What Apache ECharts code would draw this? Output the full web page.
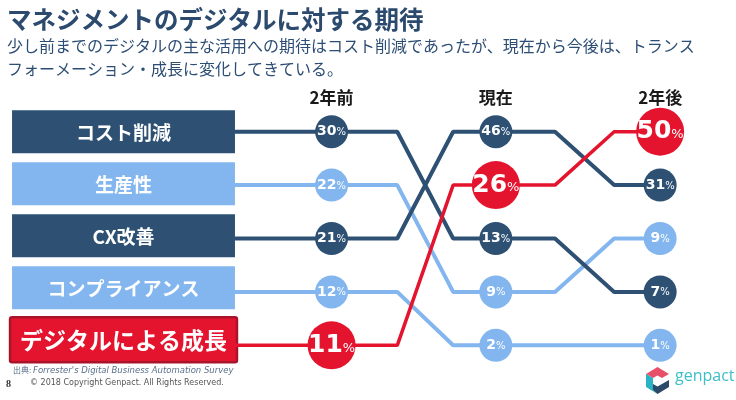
<!DOCTYPE html>
<html>
<head>
<meta charset="utf-8">
<script src="https://cdn.jsdelivr.net/npm/echarts@6/dist/echarts.min.js"></script>
<style>
  html, body { margin: 0; padding: 0; background: #fff; }
  #chart { width: 736px; height: 400px; }
</style>
</head>
<body>
<div id="chart"></div>
<script>
const categories = ['コスト削減', '生産性', 'CX改善', 'コンプライアンス', 'デジタルによる成長'];
const periods = ['2年前', '現在', '2年後'];
const before = [30, 22, 21, 12, 11];
const current = [13, 9, 46, 2, 26];
const after = [7, 9, 31, 1, 50];

const DARK = '#2d5073';
const LIGHT = '#83b6ef';
const RED = '#e5142e';
const catColor = [DARK, LIGHT, DARK, LIGHT, RED];
const bigIdx = 4;

// rank of each category within a period (0 = largest)
const rankOf = vals => vals.map(v => vals.filter(o => o > v).length);
const columns = [before, current, after];
const ranks = columns.map(rankOf);

const BAR_LEFT = -1.945, BAR_RIGHT = -0.588;
const T1 = [0.4, 0.74], T2 = [0.36, 0.72];

const chart = echarts.init(document.getElementById('chart'));

const lineSeries = categories.map((c, i) => {
  const r0 = ranks[0][i], r1 = ranks[1][i], r2 = ranks[2][i];
  return {
    type: 'line',
    name: c,
    silent: true,
    symbol: 'none',
    z: i === bigIdx ? 4 : (catColor[i] === DARK ? 3 : 2),
    lineStyle: { color: catColor[i], width: i === bigIdx ? 3.5 : 4 },
    data: [[BAR_RIGHT, r0], [0, r0], [T1[0], r0], [T1[1], r1], [1, r1],
           [1 + T2[0], r1], [1 + T2[1], r2], [2, r2]]
  };
});

const dots = [];
categories.forEach((c, i) => {
  columns.forEach((vals, p) => {
    const big = i === bigIdx;
    dots.push({
      value: [p, ranks[p][i], vals[i]],
      symbolSize: big ? 48 : 33,
      itemStyle: { color: catColor[i], opacity: 1 },
      label: {
        formatter: (big ? '{bn|' : '{n|') + vals[i] + '}' + (big ? '{bp|%}' : '{p|%}')
      }
    });
  });
});

const option = {
  animation: false,
  grid: { left: 0, right: 43, top: 105, height: 267 },
  xAxis: {
    type: 'value', min: -2, max: 2.2, interval: 1, position: 'top',
    axisLine: { show: false }, axisTick: { show: false }, splitLine: { show: false },
    axisLabel: {
      margin: -1,
      formatter: v => (v >= 0 && v < periods.length ? periods[v] : ''),
      color: '#1a1a1a', fontSize: 17, fontWeight: 'bold',
      fontFamily: 'Noto Sans CJK JP'
    }
  },
  yAxis: {
    type: 'value', min: -0.5, max: 4.5, inverse: true, show: false
  },
  graphic: [
    { type: 'text', left: 7, top: 7, style: { text: 'マネジメントのデジタルに対する期待', fill: '#2b4a6d',
      font: 'bold 24.5px "Noto Sans CJK JP"' } },
    { type: 'text', left: 7, top: 38, style: { text: '少し前までのデジタルの主な活用への期待はコスト削減であったが、現在から今後は、トランス', fill: '#2d4e74',
      font: '16px "Noto Sans CJK JP"' } },
    { type: 'text', left: 7, top: 61, style: { text: 'フォーメーション・成長に変化してきている。', fill: '#2d4e74',
      font: '16px "Noto Sans CJK JP"' } },
    { type: 'text', left: 13, top: 366, style: { text: '出典: ', fill: '#5a6f8a', font: '8px "Noto Sans CJK JP"' } },
    { type: 'text', left: 33, top: 366, style: { text: "Forrester's Digital Business Automation Survey", fill: '#5a6f8a',
      font: 'italic 8.5px "DejaVu Sans"' } },
    { type: 'text', left: 6, top: 379, style: { text: '8', fill: '#333', font: 'bold 10px "Liberation Serif"' } },
    { type: 'text', left: 30, top: 379, style: { text: '© 2018 Copyright Genpact. All Rights Reserved.', fill: '#555',
      font: '8px "DejaVu Sans"' } },
    { type: 'polygon', shape: { points: [[646, 374], [657.5, 367], [669, 374], [662, 378], [657.5, 375.5], [653, 378]] },
      style: { fill: '#e8506a' } },
    { type: 'polygon', shape: { points: [[646, 374], [653, 378], [653, 390], [657.5, 394], [646, 387]] },
      style: { fill: '#2ab3c4' } },
    { type: 'polygon', shape: { points: [[653, 390], [657.5, 394], [669, 387], [669, 380], [657.5, 386.5], [653, 384]] },
      style: { fill: '#2b4a6a' } },
    { type: 'text', left: 675, top: 368, style: { text: 'genpact', fill: '#3cbfc8', font: '16px "Open Sans"' } }
  ],
  series: [
    {
      type: 'custom',
      silent: true,
      z: 1,
      data: categories.map((c, i) => [BAR_LEFT, ranks[0][i], i]),
      renderItem: (params, api) => {
        const i = api.value(2);
        const p0 = api.coord([BAR_LEFT, api.value(1)]);
        const p1 = api.coord([BAR_RIGHT, api.value(1)]);
        const cy = p0[1] - 1.4 * i;
        const big = i === bigIdx;
        const h = big ? 45 : 43;
        return {
          type: 'group',
          children: [
            {
              type: 'rect',
              shape: { x: p0[0] - (big ? 2 : 0), y: cy - h / 2, width: p1[0] - p0[0] + (big ? 4 : 0), height: h, r: big ? 2 : 0 },
              style: big ? { fill: RED, stroke: '#a8152a', lineWidth: 2.5 } : { fill: catColor[i] }
            },
            {
              type: 'text',
              style: {
                text: categories[i], x: (p0[0] + p1[0]) / 2, y: cy + 1,
                align: 'center', verticalAlign: 'middle', fill: '#fff',
                font: 'bold ' + (big ? 23 : 19) + 'px "Noto Sans CJK JP"'
              }
            }
          ]
        };
      }
    },
    ...lineSeries,
    {
      type: 'scatter',
      silent: true,
      z: 10,
      symbol: 'circle',
      itemStyle: { opacity: 1 },
      data: dots,
      label: {
        show: true, position: 'inside', color: '#fff',
        rich: {
          n: { fontSize: 14, fontWeight: 'bold', fontFamily: 'DejaVu Sans', color: '#fff' },
          p: { fontSize: 10, fontFamily: 'DejaVu Sans', color: '#fff', padding: [2, 0, 0, 0] },
          bn: { fontSize: 25, fontWeight: 'bold', fontFamily: 'DejaVu Sans', color: '#fff' },
          bp: { fontSize: 13, fontFamily: 'DejaVu Sans', color: '#fff', padding: [6, 0, 0, 0] }
        }
      }
    }
  ]
};

chart.setOption(option);
</script>
</body>
</html>
